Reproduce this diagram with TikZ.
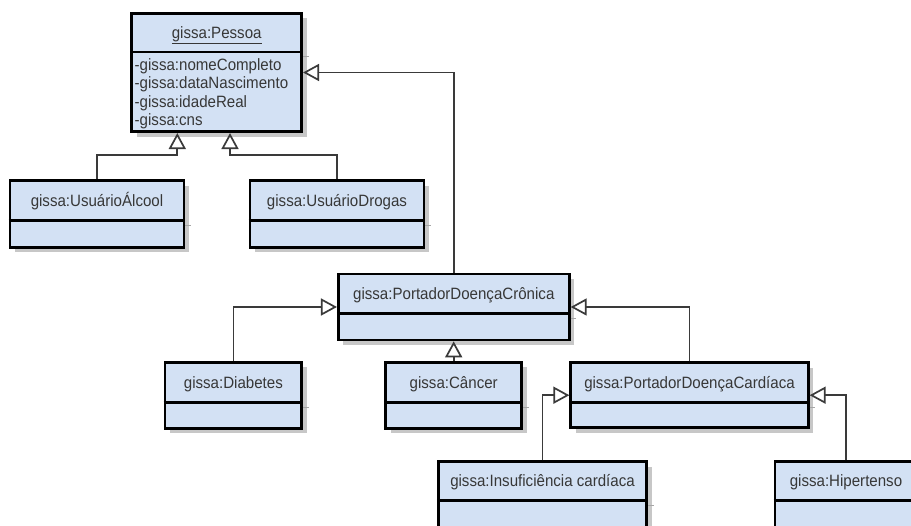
\documentclass[tikz,border=0pt]{standalone}
\usepackage{fontspec}
\setmainfont{Liberation Sans}[FakeStretch=0.92]
\usetikzlibrary{arrows.meta,fit,shadows}
\definecolor{clsfill}{RGB}{211,225,244}
\definecolor{ink}{RGB}{58,58,58}
\definecolor{txt}{RGB}{55,55,55}
\tikzset{
  clsbox/.style={draw=black, line width=2.7pt, fill=clsfill, inner sep=0pt,
    drop shadow={shadow xshift=5pt, shadow yshift=-5pt, fill=black!22, opacity=1}},
  clsdiv/.style={draw=black, line width=2.7pt},
  divshade/.style={draw=black!35, line width=1pt},
  clstext/.style={inner sep=0pt, text=txt, font=\fontsize{16.4}{18.3}\selectfont},
  gen/.style={draw=ink, line width=1.7pt,
    -{Triangle[length=16pt, width=17pt, fill=white, line width=1.7pt]}}
}
% class box: name, left, top, right, divider, bottom, title
\newcommand\umlclass[7]{%
  \node[clsbox, fit={(#2,#3) (#4,#6)}] (#1) {};
  \draw[divshade] (#4+1.3,#5+5) -- (#4+7,#5+5);
  \draw[clsdiv] (#1.west |- {(#2,#5)}) -- (#1.east |- {(#2,#5)});
  \node[clstext, anchor=base] (#1-title) at ({(#2+#4)/2},{(#3+#5)/2+5.8}) {#7};
}
\begin{document}
\begin{tikzpicture}[x=1pt, y=-1pt]
  \fill[white] (0,0) rectangle (911,526);
  \useasboundingbox (0,0) rectangle (911,526);

  % classes
  \umlclass{pessoa}{131.7}{13.3}{301.7}{52}{131.7}{\underline{gissa:Pessoa}}
  \node[clstext, anchor=base west] (attr1) at (134.5,70.6) {-gissa:nomeCompleto};
  \node[clstext, anchor=base west] (attr2) at (134.5,88.9) {-gissa:dataNascimento};
  \node[clstext, anchor=base west] (attr3) at (134.5,107.2) {-gissa:idadeReal};
  \node[clstext, anchor=base west] (attr4) at (134.5,125.5) {-gissa:cns};

  \umlclass{alcool}{10}{180.7}{184}{220.7}{247.3}{gissa:UsuárioÁlcool}
  \umlclass{drogas}{250}{180.7}{424}{220.7}{247.3}{gissa:UsuárioDrogas}
  \umlclass{cronica}{338.3}{274}{569.3}{313.3}{340}{gissa:PortadorDoençaCrônica}
  \umlclass{diabetes}{165}{362.3}{301.7}{402.3}{428.3}{gissa:Diabetes}
  \umlclass{cancer}{385.7}{362.3}{521.7}{402.3}{428.3}{gissa:Câncer}
  \umlclass{cardiaca}{570.7}{362.7}{808.3}{402.7}{427.7}{gissa:PortadorDoençaCardíaca}
  \umlclass{insuf}{438.3}{461.7}{646.7}{500.7}{527.7}{gissa:Insuficiência cardíaca}
  \umlclass{hiper}{775}{461.7}{917}{500.7}{527.7}{gissa:Hipertenso}

  % bends of the two connectors under gissa:Pessoa
  \coordinate (bendA) at (177.3,155);
  \coordinate (bendB) at (230,155);

  % generalisations
  \draw[gen] (alcool.north) |- (bendA) -- (bendA |- pessoa.south);
  \draw[gen] (drogas.north) |- (bendB) -- (bendB |- pessoa.south);
  \draw[gen] (cronica.north) |- (pessoa.east);
  \draw[gen] (diabetes.north) |- (cronica.west);
  \draw[gen] (cancer.north) -- (cancer.north |- cronica.south);
  \draw[gen] (cardiaca.north) |- (cronica.east);
  \draw[gen] (insuf.north) |- (cardiaca.west);
  \draw[gen] (hiper.north) |- (cardiaca.east);
\end{tikzpicture}
\end{document}
